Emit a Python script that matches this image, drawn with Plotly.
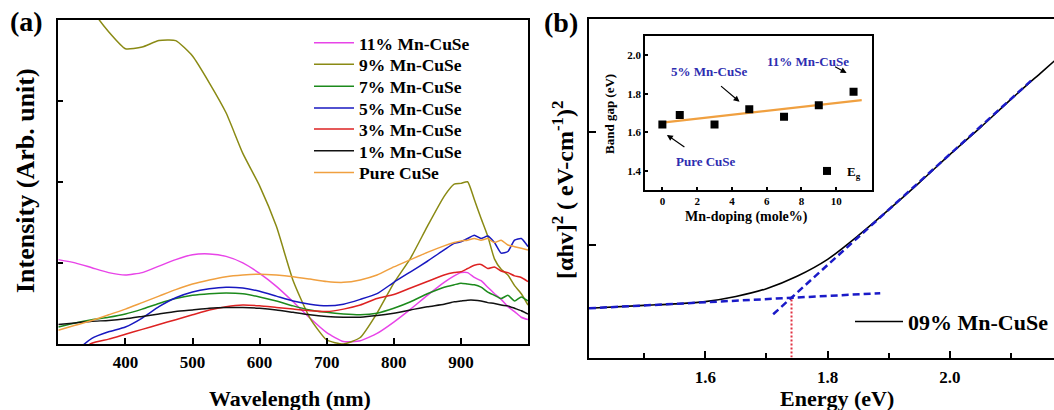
import plotly.graph_objects as go

# ---------------- Panel (a) data ----------------
wavelength = [300, 325, 350, 375, 400, 425, 450, 475, 500, 525, 550, 575, 600, 625, 650, 675,
              700, 725, 750, 775, 800, 825, 850, 875, 890, 900, 910, 920, 930, 940, 950, 960,
              970, 980, 990, 1000]
mn11 = [1.04, 1.00, 0.94, 0.88, 0.85, 0.88, 0.96, 1.04, 1.10, 1.11, 1.08, 1.00, 0.87, 0.71, 0.52, 0.32,
        0.14, 0.03, 0.04, 0.13, 0.27, 0.43, 0.60, 0.76, 0.84, 0.88, 0.88, 0.82, 0.78, 0.70, 0.62, 0.55,
        0.46, 0.40, 0.33, 0.30]
mn9 = [4.80, 4.45, 4.12, 3.85, 3.64, 3.66, 3.74, 3.74, 3.55, 3.22, 2.85, 2.35, 1.95, 1.45, 0.78, 0.32,
       0.05, 0.00, 0.08, 0.38, 0.75, 1.06, 1.45, 1.82, 1.97, 1.98, 2.00, 1.78, 1.55, 1.33, 1.05, 0.92,
       0.85, 0.72, 0.62, 0.48]
mn7 = [0.21, 0.26, 0.30, 0.33, 0.37, 0.43, 0.50, 0.56, 0.60, 0.62, 0.63, 0.62, 0.58, 0.53, 0.47, 0.42,
       0.39, 0.37, 0.36, 0.38, 0.44, 0.52, 0.62, 0.70, 0.73, 0.75, 0.74, 0.73, 0.70, 0.64, 0.60, 0.56,
       0.60, 0.53, 0.58, 0.53]
mn5 = [-0.30, -0.10, 0.07, 0.15, 0.21, 0.32, 0.46, 0.57, 0.64, 0.68, 0.70, 0.69, 0.65, 0.59, 0.53, 0.49,
       0.47, 0.49, 0.55, 0.62, 0.76, 0.89, 1.02, 1.16, 1.24, 1.26, 1.30, 1.34, 1.30, 1.33, 1.25, 1.12,
       1.14, 1.28, 1.30, 1.20]
mn3 = [-0.30, -0.12, 0.01, 0.06, 0.12, 0.18, 0.24, 0.30, 0.36, 0.42, 0.46, 0.48, 0.47, 0.45, 0.43, 0.41,
       0.40, 0.43, 0.48, 0.56, 0.61, 0.69, 0.77, 0.85, 0.88, 0.89, 0.93, 0.97, 0.98, 0.93, 0.95, 0.90,
       0.88, 0.84, 0.82, 0.77]
mn1 = [0.24, 0.26, 0.28, 0.29, 0.31, 0.34, 0.37, 0.40, 0.42, 0.44, 0.45, 0.45, 0.44, 0.42, 0.39, 0.36,
       0.34, 0.33, 0.33, 0.35, 0.38, 0.42, 0.46, 0.49, 0.52, 0.53, 0.54, 0.54, 0.53, 0.51, 0.50, 0.48,
       0.47, 0.44, 0.41, 0.37]
pure = [0.17, 0.23, 0.29, 0.36, 0.43, 0.51, 0.59, 0.67, 0.74, 0.79, 0.83, 0.85, 0.86, 0.85, 0.83, 0.80,
        0.77, 0.76, 0.79, 0.85, 0.95, 1.04, 1.13, 1.21, 1.25, 1.27, 1.28, 1.30, 1.28, 1.30, 1.25, 1.28,
        1.22, 1.20, 1.18, 1.16]

series_a = [
    ("11% Mn-CuSe", mn11, "#e844e8"),
    ("9% Mn-CuSe", mn9, "#8a8a14"),
    ("7% Mn-CuSe", mn7, "#1c8a1c"),
    ("5% Mn-CuSe", mn5, "#1818c0"),
    ("3% Mn-CuSe", mn3, "#dd2222"),
    ("1% Mn-CuSe", mn1, "#111111"),
    ("Pure CuSe", pure, "#f0a040"),
]
wl_ticks = [400, 500, 600, 700, 800, 900]

# ---------------- Panel (b) data ----------------
energy = [1.41, 1.50, 1.55, 1.60, 1.65, 1.70, 1.75, 1.80, 1.85, 1.90, 1.95, 2.00, 2.05, 2.10, 2.15, 2.175]
tauc = [0.436, 0.462, 0.475, 0.495, 0.54, 0.61, 0.72, 0.87, 1.08, 1.31, 1.55, 1.80, 2.04, 2.29, 2.53, 2.65]
base_fit_x = [1.41, 1.886]
base_fit_y = [0.436, 0.57]
edge_fit_x = [1.711, 2.137]
edge_fit_y = [0.383, 2.475]
eg_value = 1.741
eg_cross = 0.53

# ---------------- Inset data ----------------
mn_doping = [0, 1, 3, 5, 7, 9, 11]
band_gap = [1.64, 1.69, 1.64, 1.72, 1.68, 1.74, 1.81]
lin_fit_x = [0, 11.47]
lin_fit_y = [1.65, 1.767]

FONT = "Liberation Serif"
W, H = 1054, 410
px = lambda v: v / W
py = lambda v: 1 - v / H

fig = go.Figure()

legend_rows = [42.8, 64.4, 86.3, 108.0, 129.2, 150.8, 172.5]
legend_ids = ["legend", "legend4", "legend5", "legend6", "legend7", "legend8", "legend9"]
legend_layout = {}
for (name, vals, col), lid, row in zip(series_a, legend_ids, legend_rows):
    fig.add_trace(go.Scatter(x=wavelength, y=vals, name=name, mode="lines",
                             line=dict(color=col, width=1.5, shape="spline", smoothing=0.5),
                             xaxis="x", yaxis="y", legend=lid))
    legend_layout[lid] = dict(x=px(309), y=py(row), xanchor="left", yanchor="middle",
                              bgcolor="rgba(0,0,0,0)", itemwidth=40,
                              font=dict(size=17.5, family=FONT, weight="bold"))

fig.add_trace(go.Scatter(x=energy, y=tauc, name="09% Mn-CuSe", mode="lines",
                         line=dict(color="black", width=1.6, shape="spline", smoothing=0.8),
                         xaxis="x2", yaxis="y2", legend="legend2"))
fig.add_trace(go.Scatter(x=base_fit_x, y=base_fit_y, mode="lines", showlegend=False,
                         line=dict(color="#1a1ac8", width=2.5, dash="7px,4px"),
                         xaxis="x2", yaxis="y2"))
fig.add_trace(go.Scatter(x=edge_fit_x, y=edge_fit_y, mode="lines", showlegend=False,
                         line=dict(color="#1a1ac8", width=2.5, dash="7px,4px"),
                         xaxis="x2", yaxis="y2"))
fig.add_trace(go.Scatter(x=[eg_value, eg_value], y=[0, eg_cross], mode="lines", showlegend=False,
                         line=dict(color="#e03040", width=2, dash="2px,2px"),
                         xaxis="x2", yaxis="y2"))

fig.add_trace(go.Scatter(x=lin_fit_x, y=lin_fit_y, mode="lines", showlegend=False,
                         line=dict(color="#f0a040", width=2.2), xaxis="x3", yaxis="y3"))
fig.add_trace(go.Scatter(x=mn_doping, y=band_gap, mode="markers", name="E<sub>g</sub>",
                         marker=dict(symbol="square", size=8, color="black"),
                         xaxis="x3", yaxis="y3", legend="legend3"))

ax_common = dict(showgrid=False, zeroline=False, showline=True, linecolor="black",
                 linewidth=1.6, ticks="inside", tickcolor="black", tickwidth=1.5)

fig.update_layout(
    width=W, height=H, margin=dict(l=0, r=0, t=0, b=0),
    paper_bgcolor="white", plot_bgcolor="white",
    font=dict(family=FONT, color="black", weight="bold"),
    xaxis=dict(domain=[px(58.3), px(528)], range=[300, 1000], tickvals=wl_ticks,
               mirror=True, ticklen=6, tickfont=dict(size=17, family=FONT, weight="bold"),
               ticklabelstandoff=2, anchor="y", **ax_common),
    yaxis=dict(domain=[py(344), py(19.5)], range=[0, 4], tickvals=[1, 2, 3],
               showticklabels=False, mirror=True, ticklen=5, anchor="x", **ax_common),
    xaxis2=dict(domain=[px(589), 1.0], range=[1.41, 2.17], tickmode="linear", tick0=1.6, dtick=0.2,
                tickformat=".1f", mirror=True, ticklen=7,
                minor=dict(dtick=0.1, tick0=1.5, ticks="inside", ticklen=5, tickcolor="black", tickwidth=1.5),
                tickfont=dict(size=17, family=FONT, weight="bold"), ticklabelstandoff=3,
                anchor="y2", **ax_common),
    yaxis2=dict(domain=[py(357.5), py(19)], range=[0, 3], tickvals=[1, 2],
                showticklabels=False, mirror=False, ticklen=7, anchor="x2", **ax_common),
    xaxis3=dict(domain=[px(645), px(871.8)], range=[-1, 12.05], tickvals=[0, 2, 4, 6, 8, 10],
                mirror=True, ticklen=3, tickfont=dict(size=11, family=FONT, weight="bold"),
                anchor="y3", **ax_common),
    yaxis3=dict(domain=[py(190), py(36)], range=[1.3, 2.1], tickvals=[1.4, 1.6, 1.8, 2.0],
                tickformat=".1f", mirror=True, ticklen=3,
                tickfont=dict(size=11, family=FONT, weight="bold"), anchor="x3", **ax_common),
    legend2=dict(x=px(850), y=py(321.7), xanchor="left", yanchor="middle", bgcolor="rgba(0,0,0,0)",
                 font=dict(size=22, family=FONT, weight="bold"), itemwidth=48),
    legend3=dict(x=px(807), y=py(171), xanchor="left", yanchor="middle", bgcolor="rgba(0,0,0,0)",
                 font=dict(size=13, family=FONT, weight="bold"), itemwidth=30),
    **legend_layout,
)

ann = [
    dict(text="(a)", x=px(26), y=py(21), size=28),
    dict(text="(b)", x=px(561), y=py(22), size=28),
    dict(text="Wavelength (nm)", x=px(290), y=py(398), size=22),
    dict(text="Intensity (Arb. unit)", x=px(26), y=py(181), size=26, angle=-90),
    dict(text="Energy (eV)", x=px(836.7), y=py(398), size=22),
    dict(text="[αhv]<sup>2</sup> ( eV-cm<sup>-1</sup>)<sup>2</sup>", x=px(563), y=py(190), size=24, angle=-90),
    dict(text="Mn-doping (mole%)", x=px(746), y=py(217), size=14),
    dict(text="Band gap (eV)", x=px(609), y=py(114), size=13, angle=-90),
    dict(text="5% Mn-CuSe", x=px(709), y=py(71.7), size=13, color="#2d2db0"),
    dict(text="11% Mn-CuSe", x=px(807.8), y=py(61), size=13, color="#2d2db0"),
    dict(text="Pure CuSe", x=px(705.6), y=py(161), size=13, color="#2d2db0"),
]
for a in ann:
    fig.add_annotation(text=a["text"], x=a["x"], y=a["y"], xref="paper", yref="paper",
                       xanchor="center", yanchor="middle", showarrow=False,
                       textangle=a.get("angle", 0),
                       font=dict(size=a["size"], family=FONT, weight="bold", color=a.get("color", "black")))

# arrows in the inset (head at data-side end)
arrows = [(4.44, 1.758, -20, -17), (10.6, 1.908, -13, -7), (0.26, 1.586, 19, 13)]
for x, y, axo, ayo in arrows:
    fig.add_annotation(x=x, y=y, xref="x3", yref="y3", text="", showarrow=True,
                       ax=axo, ay=ayo, arrowhead=2, arrowsize=1, arrowwidth=1.2, arrowcolor="black")

fig.write_html("out.html", config={"displayModeBar": False},
               post_script="document.body.style.margin='0px';document.body.style.overflow='hidden';")
